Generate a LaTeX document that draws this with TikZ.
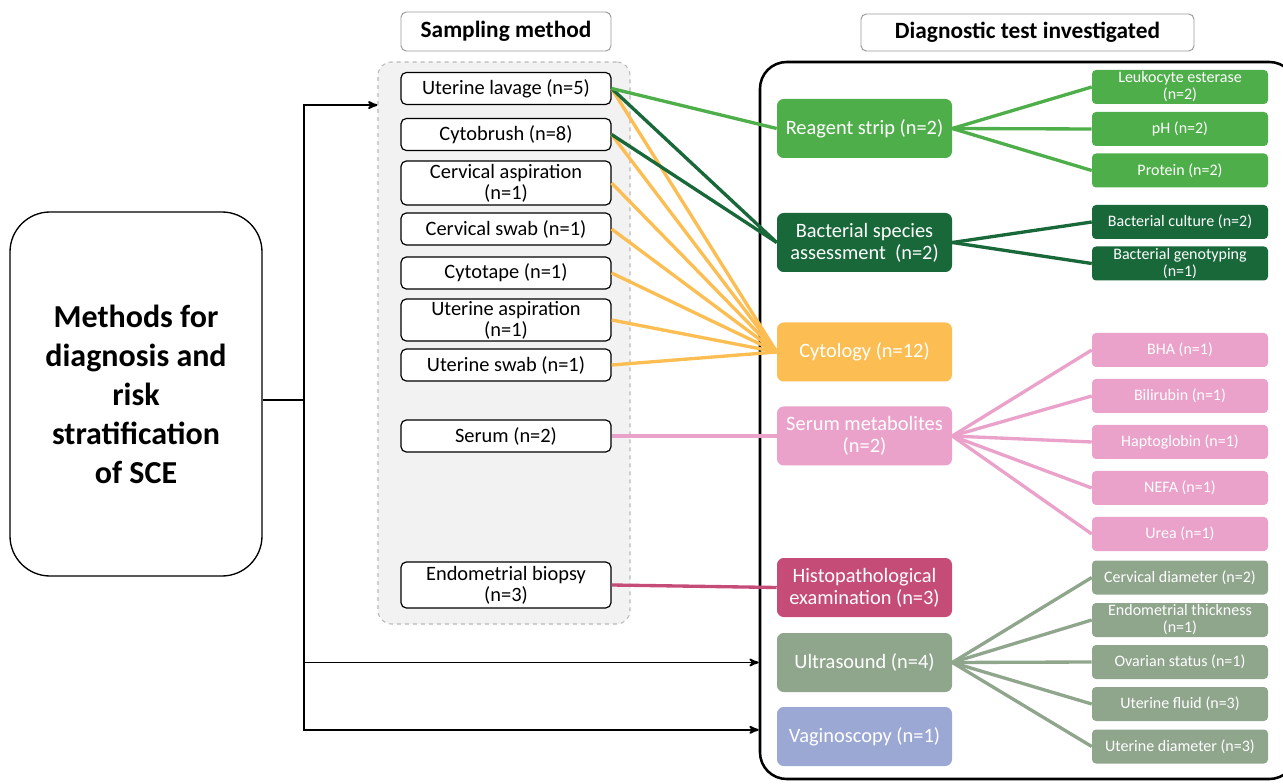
\documentclass[tikz,border=0pt]{standalone}
\usepackage{fontspec}
\setmainfont{Carlito}
\usetikzlibrary{positioning, arrows}
\definecolor{stripgreen}{RGB}{78,175,74}
\definecolor{bactgreen}{RGB}{24,104,58}
\definecolor{cytoorange}{RGB}{252,190,82}
\definecolor{serumpink}{RGB}{235,162,202}
\definecolor{histopink}{RGB}{198,76,120}
\definecolor{usgrey}{RGB}{143,166,141}
\definecolor{vagblue}{RGB}{156,168,212}
\tikzset{>=stealth',
         x=0.75pt, y=-0.75pt,
         header/.style={draw=gray!80, rounded corners=4pt, line width=0.7pt, fill=white,
                        font=\fontsize{17.5}{20}\selectfont\bfseries},
         sample/.style={draw, rounded corners=4pt, line width=0.9pt, fill=white,
                        minimum width=157.5pt, minimum height=24pt, inner sep=1pt,
                        align=center, font=\fontsize{15.3}{15.75}\selectfont},
         test/.style={rounded corners=5pt, text=white, minimum width=131.25pt,
                      minimum height=44.25pt, inner sep=1pt, align=center,
                      font=\fontsize{15.3}{16.5}\selectfont},
         leaf/.style={rounded corners=3pt, text=white, minimum width=132pt,
                      minimum height=25.5pt, inner sep=0.5pt, align=center,
                      font=\fontsize{12}{12.75}\selectfont},
         link/.style={line width=2.5pt},
         feed/.style={->, line width=1.4pt},
         }
\begin{document}
\begin{tikzpicture}
    \useasboundingbox (0,0) rectangle (1283,784);

    \node[draw=gray!55, dashed, fill=gray!10, line width=0.8pt, rounded corners=10pt,
          minimum width=189pt, minimum height=421.5pt] (sampgrp) at (504,343) {};
    \node[draw, line width=1.9pt, rounded corners=20pt, inner sep=0pt,
          minimum width=402pt, minimum height=537.75pt] (diaggrp) at (1028,420.5) {};

    \node[header, minimum width=157.5pt, minimum height=29.25pt] (samphead) at (506,31.5) {Sampling method};
    \node[header, minimum width=249.75pt, minimum height=27.75pt] (diaghead) at (1027.5,32.5) {Diagnostic test investigated};

    \node[draw, line width=1pt, rounded corners=30pt, minimum width=189pt, minimum height=273pt,
          align=center, font=\fontsize{24}{29.25}\selectfont\bfseries] (sce) at (136,394)
          {Methods for\\diagnosis and\\risk\\stratification\\of SCE};

    \node[sample] (lav) at (506,88.5) {Uterine lavage (n=5)};
    \node[sample] (brush) at (506,134.5) {Cytobrush (n=8)};
    \node[sample, minimum height=33pt] (cerasp) at (506,183) {Cervical aspiration\\(n=1)};
    \node[sample] (cerswab) at (506,229) {Cervical swab (n=1)};
    \node[sample] (tape) at (506,273) {Cytotape (n=1)};
    \node[sample, minimum height=31.5pt] (uterasp) at (506,320) {Uterine aspiration\\(n=1)};
    \node[sample] (uterswab) at (506,365) {Uterine swab (n=1)};
    \node[sample] (serum) at (506,436) {Serum (n=2)};
    \node[sample, minimum height=34.5pt] (biopsy) at (506,585) {Endometrial biopsy\\(n=3)};

    \node[test, fill=stripgreen] (strip) at (864.5,128.5) {Reagent strip (n=2)};
    \node[test, fill=bactgreen] (bact) at (864.5,242.5) {Bacterial species\\assessment\ \ (n=2)};
    \node[test, fill=cytoorange] (cyto) at (864.5,352) {Cytology (n=12)};
    \node[test, fill=serumpink] (metab) at (864.5,436) {Serum metabolites\\(n=2)};
    \node[test, fill=histopink] (histo) at (864.5,587.5) {Histopathological\\examination (n=3)};
    \node[test, fill=usgrey] (us) at (864.5,662.5) {Ultrasound (n=4)};
    \node[test, fill=vagblue] (vag) at (864.5,736.5) {Vaginoscopy (n=1)};

    \node[leaf, fill=stripgreen] (leuk) at (1180,87) {Leukocyte esterase\\(n=2)};
    \node[leaf, fill=stripgreen] (ph) at (1180,129) {pH (n=2)};
    \node[leaf, fill=stripgreen] (prot) at (1180,170.5) {Protein (n=2)};
    \node[leaf, fill=bactgreen] (bcult) at (1180,222) {Bacterial culture (n=2)};
    \node[leaf, fill=bactgreen] (bgeno) at (1180,263.5) {Bacterial genotyping\\(n=1)};
    \node[leaf, fill=serumpink] (bha) at (1180,350) {BHA (n=1)};
    \node[leaf, fill=serumpink] (bili) at (1180,396) {Bilirubin (n=1)};
    \node[leaf, fill=serumpink] (hapto) at (1180,442) {Haptoglobin (n=1)};
    \node[leaf, fill=serumpink] (nefa) at (1180,488) {NEFA (n=1)};
    \node[leaf, fill=serumpink] (urea) at (1180,534) {Urea (n=1)};
    \node[leaf, fill=usgrey] (cdiam) at (1180,577.5) {Cervical diameter (n=2)};
    \node[leaf, fill=usgrey] (endo) at (1180,620) {Endometrial thickness\\(n=1)};
    \node[leaf, fill=usgrey] (ovar) at (1180,662) {Ovarian status (n=1)};
    \node[leaf, fill=usgrey] (ufluid) at (1180,704) {Uterine fluid (n=3)};
    \node[leaf, fill=usgrey] (udiam) at (1180,746.5) {Uterine diameter (n=3)};

    \coordinate (split) at (304,400);
    \coordinate (vagin) at ([yshift=5pt]vag.west);
    \draw[line width=1.4pt] (sce.east |- split) -- (split);
    \draw[feed] (split) |- (sampgrp.west |- lav.south);
    \draw[feed] (split) |- (diaggrp.west |- us.west);
    \draw[feed] (split) |- (diaggrp.west |- vagin);

    \draw[link, cytoorange] (cyto.west) edge (lav.east) edge (brush.east) edge (cerasp.east)
            edge (cerswab.east) edge (tape.east) edge (uterasp.east) edge (uterswab.east);
    \draw[link, bactgreen] (bact.west) edge (lav.east) edge (brush.east);
    \draw[link, stripgreen] (strip.west) -- (lav.east);
    \draw[link, serumpink] (serum.east) -- (metab.west);
    \draw[link, histopink] (biopsy.east) -- (histo.west);

    \draw[link, stripgreen] (strip.east) edge (leuk.west) edge (ph.west) edge (prot.west);
    \draw[link, bactgreen] (bact.east) edge (bcult.west) edge (bgeno.west);
    \draw[link, serumpink] (metab.east) edge (bha.west) edge (bili.west) edge (hapto.west)
            edge (nefa.west) edge (urea.west);
    \draw[link, usgrey] (us.east) edge (cdiam.west) edge (endo.west) edge (ovar.west)
            edge (ufluid.west) edge (udiam.west);
\end{tikzpicture}
\end{document}
